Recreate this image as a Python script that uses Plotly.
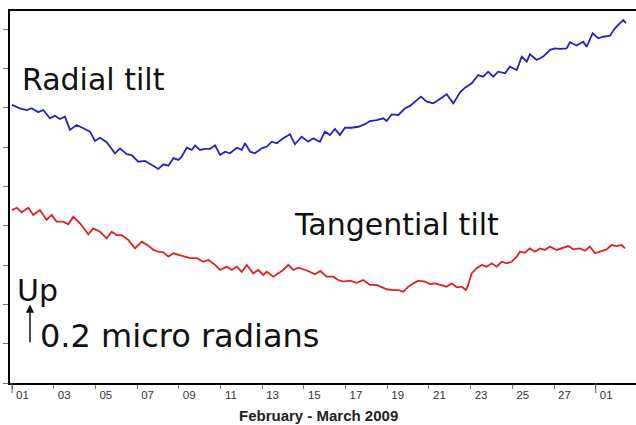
import pandas as pd
import plotly.graph_objects as go

# Tiltmeter record, February - March 2009.
# Time is in days since 2009-02-01 00:00, tilt in micro radians (arbitrary offset).
radial_day = [
    0.00, 0.38, 0.71, 0.94, 1.26, 1.50, 1.82, 2.06, 2.30, 2.54, 2.78, 3.10, 3.42, 3.74,
    3.98, 4.22, 4.54, 4.94, 5.18, 5.50, 5.74, 6.06, 6.38, 6.70, 7.02, 7.26, 7.50, 7.74,
    7.98, 8.14, 8.38, 8.62, 8.78, 9.02, 9.26, 9.50, 9.74, 9.98, 10.22, 10.46, 10.78,
    11.02, 11.18, 11.42, 11.65, 11.98, 12.22, 12.46, 12.70, 13.01, 13.33, 13.57, 13.89,
    14.21, 14.45, 14.77, 15.01, 15.25, 15.49, 15.73, 15.97, 16.29, 16.61, 16.93, 17.17,
    17.49, 17.81, 17.97, 18.21, 18.53, 18.85, 19.09, 19.35, 19.62, 19.89, 20.21, 20.45,
    20.85, 21.17, 21.49, 21.73, 22.05, 22.36, 22.60, 22.84, 23.08, 23.32, 23.65, 23.88,
    24.21, 24.45, 24.69, 24.84, 25.17, 25.48, 25.80, 26.04, 26.28, 26.60, 26.76, 27.08,
    27.40, 27.56, 27.85, 28.12, 28.36, 28.68, 28.92, 29.16, 29.32, 29.45,
]
radial_urad = [
    1.415, 1.398, 1.389, 1.398, 1.378, 1.389, 1.347, 1.360, 1.344, 1.355, 1.288, 1.313,
    1.296, 1.279, 1.232, 1.248, 1.225, 1.169, 1.194, 1.164, 1.160, 1.126, 1.130, 1.109,
    1.089, 1.113, 1.106, 1.144, 1.135, 1.152, 1.197, 1.186, 1.208, 1.186, 1.191, 1.191,
    1.209, 1.160, 1.177, 1.169, 1.197, 1.186, 1.220, 1.177, 1.169, 1.194, 1.203, 1.228,
    1.220, 1.245, 1.266, 1.215, 1.253, 1.228, 1.245, 1.228, 1.279, 1.262, 1.293, 1.262,
    1.299, 1.299, 1.304, 1.317, 1.333, 1.338, 1.347, 1.333, 1.367, 1.364, 1.398, 1.410,
    1.435, 1.457, 1.432, 1.423, 1.440, 1.469, 1.423, 1.479, 1.503, 1.525, 1.567, 1.559,
    1.584, 1.559, 1.584, 1.576, 1.610, 1.593, 1.661, 1.635, 1.673, 1.644, 1.661, 1.695,
    1.703, 1.700, 1.703, 1.734, 1.717, 1.737, 1.711, 1.780, 1.754, 1.762, 1.767, 1.805,
    1.831, 1.847, 1.831,
]

tangential_day = [
    0.00, 0.23, 0.47, 0.78, 1.02, 1.34, 1.66, 1.90, 2.14, 2.46, 2.70, 2.94, 3.26, 3.66,
    3.90, 4.22, 4.54, 4.78, 5.02, 5.26, 5.58, 5.90, 6.22, 6.54, 6.78, 7.02, 7.26, 7.50,
    7.74, 8.06, 8.22, 8.54, 8.86, 9.18, 9.42, 9.74, 9.98, 10.30, 10.54, 10.78, 11.02,
    11.26, 11.57, 11.81, 12.05, 12.22, 12.53, 12.70, 13.01, 13.25, 13.49, 13.73, 13.97,
    14.21, 14.53, 14.79, 15.09, 15.41, 15.65, 15.89, 16.21, 16.53, 16.85, 17.17, 17.49,
    17.73, 17.97, 18.29, 18.53, 18.77, 19.01, 19.25, 19.49, 19.81, 20.05, 20.29, 20.53,
    20.85, 21.09, 21.33, 21.57, 21.77, 21.88, 22.05, 22.29, 22.53, 22.77, 23.01, 23.25,
    23.49, 23.73, 23.97, 24.21, 24.36, 24.60, 24.84, 25.08, 25.32, 25.56, 25.80, 26.12,
    26.36, 26.68, 26.92, 27.24, 27.48, 27.72, 27.96, 28.20, 28.52, 28.76, 29.00, 29.24,
    29.40,
]
tangential_urad = [
    0.880, 0.892, 0.869, 0.892, 0.855, 0.880, 0.830, 0.855, 0.821, 0.821, 0.808, 0.846,
    0.813, 0.757, 0.787, 0.770, 0.736, 0.770, 0.753, 0.753, 0.728, 0.685, 0.719, 0.699,
    0.677, 0.668, 0.665, 0.643, 0.660, 0.651, 0.643, 0.635, 0.635, 0.617, 0.626, 0.601,
    0.575, 0.592, 0.575, 0.592, 0.566, 0.601, 0.558, 0.575, 0.550, 0.566, 0.541, 0.553,
    0.575, 0.601, 0.575, 0.587, 0.580, 0.570, 0.553, 0.570, 0.541, 0.541, 0.524, 0.516,
    0.521, 0.510, 0.524, 0.499, 0.499, 0.490, 0.477, 0.473, 0.473, 0.465, 0.490, 0.507,
    0.521, 0.516, 0.504, 0.507, 0.499, 0.490, 0.507, 0.487, 0.490, 0.473, 0.499, 0.558,
    0.584, 0.601, 0.592, 0.609, 0.592, 0.617, 0.609, 0.617, 0.643, 0.668, 0.663, 0.685,
    0.668, 0.685, 0.677, 0.694, 0.677, 0.685, 0.697, 0.680, 0.685, 0.673, 0.694, 0.660,
    0.668, 0.680, 0.702, 0.697, 0.702, 0.685,
]

# Day-of-month labels, every second day
tick_days = [0, 2, 4, 6, 8, 10, 12, 14, 16, 18, 20, 22, 24, 26, 28]
tick_text = ["01", "03", "05", "07", "09", "11", "13", "15", "17", "19", "21", "23",
             "25", "27", "01"]
month_starts = [0, 28]

start = pd.Timestamp("2009-02-01")


def to_time(days):
    return start + pd.to_timedelta(pd.Series(days, dtype=float), unit="D")


fig = go.Figure()
fig.add_trace(go.Scatter(x=to_time(radial_day), y=radial_urad, mode="lines",
                         line=dict(color="#2323c4", width=1.8), name="Radial tilt"))
fig.add_trace(go.Scatter(x=to_time(tangential_day), y=tangential_urad, mode="lines",
                         line=dict(color="#dc2222", width=1.8), name="Tangential tilt"))

label_font = dict(family="DejaVu Sans", size=30, color="#111111")


def px_x(p):
    return (p - 10) / 626


def px_y(p):
    return (383 - p) / 372


for txt, x, y, size in [("Radial tilt", 20, 80, 30), ("Tangential tilt", 292, 225, 30),
                        ("Up", 15, 290, 30), ("0.2 micro radians", 38, 336, 32)]:
    fig.add_annotation(text=txt, xref="paper", yref="paper", x=px_x(x), y=px_y(y),
                       xanchor="left", yanchor="middle", showarrow=False,
                       font=dict(label_font, size=size))

# Scale arrow: 0.2 micro radians tall
fig.add_annotation(xref="paper", yref="y", x=px_x(30), y=0.4, ax=0, ay=0.2,
                   axref="pixel", ayref="y", text="", showarrow=True,
                   arrowhead=2, arrowsize=1.1, arrowwidth=1.5, arrowcolor="#111111")

fig.add_annotation(text="<b>February - March 2009</b>", xref="paper", yref="paper",
                   x=px_x(318), y=px_y(416), xanchor="center", yanchor="middle",
                   showarrow=False, font=dict(family="Arial, Liberation Sans", size=15,
                                             color="#222222"))

# Longer ticks at month boundaries
for d in month_starts:
    t = start + pd.Timedelta(days=d)
    fig.add_shape(type="line", xref="x", yref="paper", x0=t, x1=t,
                  y0=0, y1=-10 / 372, line=dict(color="#666666", width=1))

x_lo = start + pd.Timedelta(days=-0.096)
x_hi = start + pd.Timedelta(days=29.93)

fig.update_layout(
    width=636, height=425,
    margin=dict(l=10, r=0, t=11, b=42),
    paper_bgcolor="white", plot_bgcolor="white",
    showlegend=False,
    xaxis=dict(
        range=[x_lo, x_hi], type="date",
        tickvals=[start + pd.Timedelta(days=d + 0.5) for d in tick_days],
        ticktext=tick_text, ticks="", ticklen=0,
        tickfont=dict(family="Arial, Liberation Sans", size=11.5, color="#333333"),
        showgrid=False, zeroline=False,
        showline=True, linecolor="black", linewidth=2, mirror=True,
        minor=dict(ticks="outside", ticklen=4, tickcolor="#777777", tickwidth=1,
                   tick0=start, dtick=2 * 86400000, showgrid=False),
    ),
    yaxis=dict(
        range=[0, 1.893], tick0=0, dtick=0.2, ticks="outside", ticklen=5,
        tickcolor="#777777", showticklabels=False, showgrid=False, zeroline=False,
        showline=True, linecolor="black", linewidth=2,
    ),
)

fig.write_html("out.html")
